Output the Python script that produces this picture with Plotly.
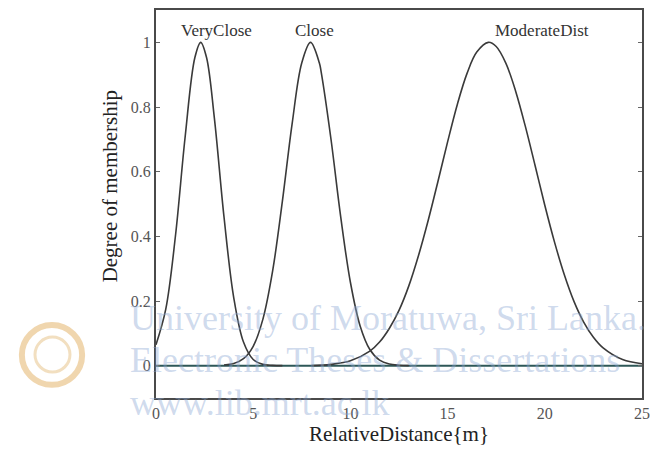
import plotly.graph_objects as go

# ---- data ----
very_close_x = [0, 0.5, 1.0, 1.5, 2.0, 2.3, 2.6, 3.0, 3.5, 4.0, 4.5, 5.0, 5.5, 6.0, 6.5]
very_close_y = [0.065, 0.174, 0.401, 0.708, 0.953, 1.0, 0.953, 0.767, 0.459, 0.210, 0.073, 0.019,
                0.004, 0.001, 0.0]

close_x = [3.5, 4.0, 4.5, 5.0, 5.5, 6.0, 6.5, 7.0, 7.5, 7.95, 8.4, 8.5, 9.0, 9.5, 10.0, 10.5,
           11.0, 11.5, 12.0, 12.5, 13.0]
close_y = [0.002, 0.0065, 0.0215, 0.060, 0.144, 0.293, 0.508, 0.747, 0.937, 1.0, 0.937, 0.907,
           0.701, 0.461, 0.258, 0.123, 0.050, 0.017, 0.005, 0.0013, 0.0]

moderate_x = [8, 9, 10, 11, 11.5, 12, 12.5, 13, 13.5, 14, 14.5, 15, 15.5, 16, 16.5, 17.1, 17.5,
              18, 18.5, 19, 19.5, 20, 20.5, 21, 21.5, 22, 22.5, 23, 24, 25]
moderate_y = [0.0, 0.004, 0.015, 0.045, 0.073, 0.115, 0.171, 0.246, 0.340, 0.449, 0.569, 0.692,
              0.808, 0.904, 0.970, 1.0, 0.987, 0.935, 0.849, 0.740, 0.619, 0.496, 0.382, 0.282,
              0.199, 0.135, 0.088, 0.055, 0.019, 0.006]

labels = ["VeryClose", "Close", "ModerateDist"]
label_x = [1.18, 7.05, 17.35]

x_ticks = [0, 5, 10, 15, 20, 25]
y_ticks = [0, 0.2, 0.4, 0.6, 0.8, 1]
y_tick_text = ["0", "0.2", "0.4", "0.6", "0.8", "1"]

x_title = "RelativeDistance{m}"
y_title = "Degree of membership"

watermark = ["University of Moratuwa, Sri Lanka.",
             "Electronic Theses & Dissertations",
             "www.lib.mrt.ac.lk"]

SERIF = "Liberation Serif, Times New Roman, serif"
CURVE = "#3a3a3a"

fig = go.Figure()

# watermark (semi-transparent so the lines show through, as in the scan)
wm_y = [0.206, 0.098, -0.013]
for txt, yy in zip(watermark, wm_y):
    fig.add_annotation(x=-0.058, y=yy, xref="paper", yref="paper", yanchor="middle",
                       xanchor="left", text=txt, showarrow=False,
                       font=dict(family=SERIF, size=36, color="rgba(140,168,212,0.42)"))

# faint crest
fig.add_shape(type="circle", xref="paper", yref="paper", x0=-0.276, x1=-0.152, y0=0.034, y1=0.188,
              line=dict(color="#f0d6ae", width=6), fillcolor="rgba(0,0,0,0)", layer="below")
fig.add_shape(type="circle", xref="paper", yref="paper", x0=-0.249, x1=-0.177, y0=0.067, y1=0.157,
              line=dict(color="#f2dfc0", width=3), fillcolor="rgba(0,0,0,0)", layer="below")

# zero line
fig.add_trace(go.Scatter(x=[0, 25], y=[0, 0], mode="lines",
                         line=dict(color="#2e5757", width=2), showlegend=False, hoverinfo="skip"))

for xs, ys in [(very_close_x, very_close_y), (close_x, close_y), (moderate_x, moderate_y)]:
    fig.add_trace(go.Scatter(x=xs, y=ys, mode="lines",
                             line=dict(color=CURVE, width=1.6, shape="spline", smoothing=1.0),
                             showlegend=False))

for lab, lx in zip(labels, label_x):
    fig.add_annotation(x=lx, y=1.0, yanchor="bottom", xanchor="left", yshift=0,
                       text=lab, showarrow=False,
                       font=dict(family=SERIF, size=17, color="#333333"))

# y-axis title (placed a little above centre, as in the reference)
fig.add_annotation(x=-0.095, y=0.545, xref="paper", yref="paper", xanchor="center",
                   yanchor="middle", text=y_title, textangle=-90, showarrow=False,
                   font=dict(family=SERIF, size=21, color="#222222"))

fig.update_layout(
    width=654, height=454,
    margin=dict(l=156, r=12, t=10, b=56),
    paper_bgcolor="white", plot_bgcolor="rgba(0,0,0,0)",
    showlegend=False,
    font=dict(family=SERIF, color="#333333"),
)
fig.update_xaxes(range=[0, 25], tickvals=x_ticks, ticktext=[str(v) for v in x_ticks],
                 automargin=False,
                 showgrid=False, zeroline=False, showline=True, mirror=True,
                 linecolor="#4a4a4a", linewidth=2, ticks="",
                 tickfont=dict(family=SERIF, size=16, color="#555555"),
                 title=dict(text=x_title, standoff=4,
                            font=dict(family=SERIF, size=21, color="#222222")))
fig.update_yaxes(range=[-0.1, 1.1], tickvals=y_ticks, ticktext=y_tick_text,
                 automargin=False,
                 showgrid=False, zeroline=False, showline=True, mirror="ticks",
                 linecolor="#4a4a4a", linewidth=2, ticks="inside", ticklen=4, tickcolor="#666666",
                 tickfont=dict(family=SERIF, size=16, color="#555555"))

fig.write_html("out.html", config={"displayModeBar": False},
               post_script="document.body.style.margin='0';document.body.style.padding='0';")
